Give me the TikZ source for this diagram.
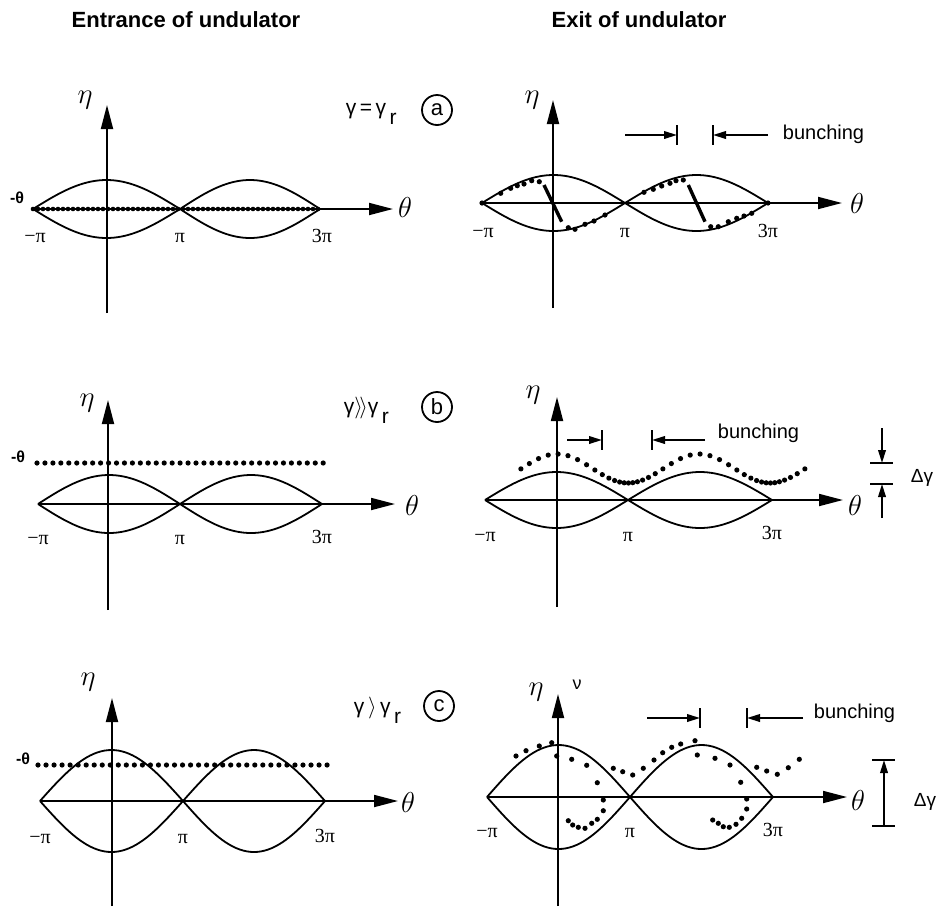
\documentclass[tikz,border=0pt]{standalone}
\usepackage{fontspec}
\newfontfamily\hv{Liberation Sans}
\newfontfamily\tm{Liberation Serif}
\usetikzlibrary{arrows.meta}

\begin{document}
\begin{tikzpicture}[
x=0.5pt, y=-0.5pt,
every path/.style={line width=0.9pt},
axis/.style={-{Triangle[length=12pt,width=6pt]}},
smallarrow/.style={-{Triangle[length=6.5pt,width=3.8pt]}},
ticklab/.style={font=\tm\fontsize{10}{10}\selectfont, inner sep=0},
varlab/.style={font=\fontsize{14.4}{15}\selectfont, inner sep=0},
sanslab/.style={font=\hv\fontsize{10.5}{11}\selectfont, inner sep=0},
minuslab/.style={font=\hv\bfseries\fontsize{8}{8}\selectfont, inner sep=0},
caselab/.style={circle, draw, minimum size=15pt, inner sep=0, font=\hv\fontsize{11}{11}\selectfont},
]
\useasboundingbox (0,0) rectangle (937,906);

% titles
\node[font=\hv\bfseries\fontsize{11}{12}\selectfont] (entr) at (186,20) {Entrance of undulator};
\node[font=\hv\bfseries\fontsize{11}{12}\selectfont] (exit) at (639,20) {Exit of undulator};

% separatrices
\foreach \a/\b/\y/\h in {33/180/209/29, 180/320/209/29, 482/625/203/28, 625/768/203/28,
  38/180/504/29, 180/322/504/29, 485/628/500/28, 628/772/500/28,
  40/183/801/51, 183/325/801/51, 487/630/797/52, 630/773/797/52}
  \draw plot[domain=-1:1, samples=41] ({(\a+\b)/2+\x*(\b-\a)/2}, {\y-\h*cos(90*\x)})
     -- plot[domain=1:-1, samples=41] ({(\a+\b)/2+\x*(\b-\a)/2}, {\y+\h*cos(90*\x)});

% axes
\draw[axis] (33,209) -- (393,209);
\draw[axis] (107,313) -- (107,105);
\draw[axis] (482,203) -- (842,203);
\draw[axis] (553,308) -- (553,100);
\draw[axis] (38,504) -- (395,504);
\draw[axis] (108,610) -- (108,400);
\draw[axis] (485,500) -- (843,500);
\draw[axis] (557,607) -- (557,397);
\draw[axis] (40,801) -- (398,801);
\draw[axis] (112,906) -- (112,698);
\draw[axis] (487,797) -- (847,797);
\draw[axis] (558,906) -- (558,694);

% axis labels
\foreach \x/\y/\t in {405/207/\theta, 85/100/\eta, 857/203/\theta, 532/100/\eta,
  412/505/\theta, 87/403/\eta, 855/505/\theta, 533/395/\eta,
  408/802/\theta, 88/682/\eta, 858/800/\theta, 536/692/\eta}
  \node[varlab] at (\x,\y) {$\t$};
\foreach \x/\y/\t in {35/238/−π, 180/238/π, 322/236/3π, 483/233/−π, 625/233/π, 768/231/3π,
  38/540/−π, 180/540/π, 322/537/3π, 485/537/−π, 628/537/π, 772/533/3π,
  40/839/−π, 183/839/π, 325/836/3π, 487/833/−π, 630/833/π, 773/830/3π}
  \node[ticklab] at (\x,\y) {\t};
\foreach \x/\y in {17/198, 18/457, 23/759}
  \node[minuslab] at (\x,\y) {-θ};

% cases
\node[sanslab, anchor=west] (ga) at (345,114) {γ\,=\,γ\raisebox{-5pt}{\,r}};
\node[caselab] (ca) at (437,110) {a};
\node[sanslab, anchor=west] (gb) at (343,410) {γ$\rangle\!\rangle$γ\raisebox{-5pt}{\,r}};
\node[caselab] (cb) at (437,407) {b};
\node[sanslab, anchor=west] (gc) at (353,710) {γ$\,\rangle\,$γ\raisebox{-5pt}{\,r}};
\node[caselab] (cc) at (439,706) {c};
\node[sanslab, font=\hv\fontsize{9}{9}\selectfont] (nu) at (577,685) {ν};

% electrons at entrance
\foreach \x in {33,38,...,320} \fill (\x,209) circle[radius=1.15pt];
\foreach \i in {0,...,36} \fill ({37+\i*7.95},463) circle[radius=1.3pt];
\foreach \i in {0,...,36} \fill ({38+\i*8.03},765) circle[radius=1.3pt];

% electrons at exit (a)
\foreach \x/\y in {482/203, 500.7/193.3, 510.7/188.3, 517.3/185.7, 524/184, 531.7/180.7, 539.3/181.7,
  568.3/227.7, 575/229.3, 585/224.3, 594/221, 605/215,
  644/192.3, 653.3/189.3, 661.7/186, 670/183.3, 676/180.7, 683.3/180,
  710.7/226.7, 718.3/226.7, 728.3/221.7, 736.7/218.3, 744/216, 751.7/213.3, 768/203}
  \fill (\x,\y) circle[radius=1.3pt];
\draw[line width=1.7pt] (544,185) -- (561.7,221.7);
\draw[line width=1.7pt] (688.3,185) -- (705,221.7);

% electrons at exit (b)
\foreach \i in {0,...,40}
  \fill ({557+0.3944*(-70+18*\i+22.9*sin(-70+18*\i))},
         {468.5-14.5*cos(-70+18*\i+22.9*sin(-70+18*\i))}) circle[radius=1.3pt];

% electrons at exit (c)
\foreach \x/\y in {516/756, 526/750.7, 539.3/746, 551.7/742.7, 556.7/756, 571.7/759.3, 586.7/765.3,
  597.3/782.7, 603.3/800, 603.3/810.7, 597.3/819.3, 591.7/823.3, 585/828.3, 578.3/827.3,
  572.7/825, 568.3/820.7,
  613.3/768.3, 622.7/771.7, 632.7/775, 643.3/768.3, 654/760, 662.7/752.7, 671.7/747.3,
  680.7/744, 695/740.7, 697.3/755, 715/758.3, 730/765, 740.7/782.3, 746.7/799, 746.7/809,
  741.7/818.3, 736/824.3, 729.3/827.3, 723.3/826.7, 718.3/823.3, 712.7/820,
  756.7/767.3, 766.7/771, 777.3/774.3, 788.3/767.7, 799.3/759.3}
  \fill (\x,\y) circle[radius=1.3pt];

% bunching marks
\foreach \l/\m/\n/\r/\y in {625/677/713/768/135, 567/602/652/705/440, 647/700/747/803/718} {
  \draw[smallarrow] (\l,\y) -- (\m,\y);
  \draw (\m,\y-10) -- (\m,\y+10);
  \draw (\n,\y-10) -- (\n,\y+10);
  \draw[smallarrow] (\r,\y) -- (\n,\y);
}
\node[sanslab, font=\hv\fontsize{10}{10}\selectfont, anchor=west] (bua) at (782,134) {bunching};
\node[sanslab, font=\hv\fontsize{10}{10}\selectfont, anchor=west] (bub) at (717,433) {bunching};
\node[sanslab, font=\hv\fontsize{10}{10}\selectfont, anchor=west] (buc) at (813,713) {bunching};

% energy spread
\draw (870,463) -- (893,463);
\draw (870,484) -- (893,484);
\draw[smallarrow] (882,428) -- (882,463);
\draw[smallarrow] (882,518) -- (882,484);
\node[sanslab, font=\hv\fontsize{9.5}{10}\selectfont] (dga) at (922,478) {Δγ};
\draw (872,760) -- (895,760);
\draw (872,826) -- (895,826);
\draw[smallarrow, {Triangle[length=6.5pt,width=3.8pt]}-] (884,760) -- (884,826);
\node[sanslab, font=\hv\fontsize{9.5}{10}\selectfont] (dgc) at (925,802) {Δγ};
\end{tikzpicture}
\end{document}
